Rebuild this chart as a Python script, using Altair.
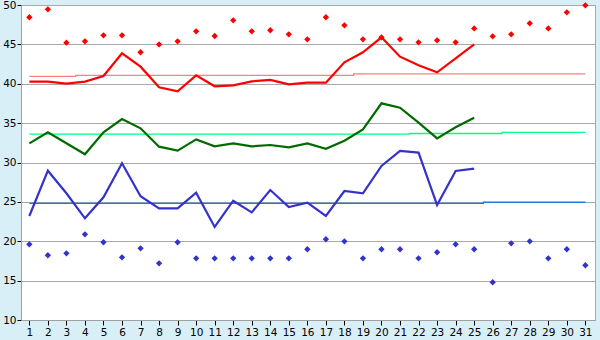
import altair as alt
import pandas as pd

days = list(range(1, 32))
days_line = list(range(1, 26))

red_points = [48.44, 49.45, 45.22, 45.39, 46.15, 46.15, 44.0, 45.0, 45.39, 46.66,
              46.06, 48.05, 46.66, 46.79, 46.28, 45.64, 48.44, 47.42, 45.64, 45.9,
              45.64, 45.26, 45.51, 45.26, 47.03, 46.02, 46.28, 47.67, 47.03, 49.07, 49.96]
red_line = [40.26, 40.26, 40.01, 40.28, 40.98, 43.86, 42.17, 39.55, 39.04, 41.07,
            39.68, 39.80, 40.31, 40.48, 39.93, 40.14, 40.14, 42.72, 43.99, 45.9,
            43.44, 42.34, 41.45, 43.23, 45.0]
red_ref = [40.94, 40.94, 40.94, 41.07, 41.07, 41.07, 41.07, 41.07, 41.07, 41.07,
           41.07, 41.07, 41.07, 41.07, 41.07, 41.07, 41.07, 41.07, 41.25, 41.25,
           41.25, 41.25, 41.25, 41.25, 41.25, 41.25, 41.25, 41.25, 41.25, 41.25, 41.25]

green_line = [32.43, 33.83, 32.45, 31.04, 33.83, 35.52, 34.34, 32.01, 31.50, 32.94,
              32.05, 32.43, 32.05, 32.22, 31.93, 32.43, 31.75, 32.77, 34.21, 37.51,
              36.96, 35.06, 33.07, 34.47, 35.69]
green_ref = [33.6, 33.6, 33.6, 33.6, 33.6, 33.6, 33.6, 33.6, 33.6, 33.6,
             33.6, 33.6, 33.6, 33.6, 33.6, 33.6, 33.6, 33.6, 33.6, 33.6,
             33.6, 33.68, 33.68, 33.68, 33.68, 33.68, 33.83, 33.83, 33.83, 33.83, 33.83]

blue_line = [23.21, 28.96, 26.09, 22.91, 25.58, 29.9, 25.71, 24.18, 24.18, 26.17,
             21.81, 25.15, 23.67, 26.51, 24.35, 24.9, 23.21, 26.38, 26.09, 29.56,
             31.46, 31.25, 24.6, 28.92, 29.22]
blue_ref = [24.82, 24.82, 24.82, 24.82, 24.82, 24.82, 24.82, 24.82, 24.82, 24.82,
            24.82, 24.82, 24.82, 24.82, 24.82, 24.82, 24.82, 24.82, 24.82, 24.82,
            24.82, 24.82, 24.82, 24.82, 24.82, 24.95, 24.95, 24.95, 24.95, 24.95, 24.95]
blue_points = [19.61, 18.22, 18.47, 20.88, 19.87, 17.96, 19.10, 17.2, 19.87, 17.83,
               17.83, 17.83, 17.83, 17.83, 17.83, 18.98, 20.25, 19.99, 17.83, 18.98,
               18.98, 17.83, 18.6, 19.61, 18.98, 14.79, 19.74, 19.99, 17.83, 18.98, 16.95]

x_ticks = list(range(1, 32))
y_ticks = [10, 15, 20, 25, 30, 35, 40, 45, 50]


def frame(xs, ys, series):
    return pd.DataFrame({"day": xs, "value": ys, "series": series})


lines = pd.concat([
    frame(days_line, red_line, "red"),
    frame(days_line, green_line, "green"),
    frame(days_line, blue_line, "blue"),
])
refs = pd.concat([
    frame(days, red_ref, "red"),
    frame(days, green_ref, "green"),
    frame(days, blue_ref, "blue"),
])
points = pd.concat([
    frame(days, red_points, "red"),
    frame(days, blue_points, "blue"),
])

x = alt.X("day:Q", scale=alt.Scale(domain=[0.55, 31.52], nice=False, zero=False),
          axis=alt.Axis(values=x_ticks, grid=False, title=None, format="d",
                        tickColor="#000000", tickSize=5, labelPadding=2,
                        domainColor="#a0a0a0", labelFlush=False))
y = alt.Y("value:Q", scale=alt.Scale(domain=[10, 50], nice=False, zero=False),
          axis=alt.Axis(values=y_ticks, grid=True, gridColor="#a8a8a8", title=None,
                        tickColor="#000000", tickSize=4, labelPadding=1,
                        domainColor="#a0a0a0", labelFlush=False))

line_colors = alt.Scale(domain=["red", "green", "blue"], range=["#ff0000", "#006a00", "#3333cc"])
ref_colors = alt.Scale(domain=["red", "green", "blue"], range=["#ff8080", "#00ff80", "#1f78e0"])
pt_colors = alt.Scale(domain=["red", "blue"], range=["#ff0000", "#3333cc"])

ref_layer = alt.Chart(refs).mark_line(interpolate="step", strokeWidth=1.3).encode(
    x=x, y=y, color=alt.Color("series:N", scale=ref_colors, legend=None),
    detail="series:N")
line_layer = alt.Chart(lines).mark_line(strokeWidth=2.2).encode(
    x=x, y=y, color=alt.Color("series:N", scale=line_colors, legend=None),
    detail="series:N")
pt_layer = alt.Chart(points).mark_point(shape="diamond", filled=True, size=40, opacity=1).encode(
    x=x, y=y, color=alt.Color("series:N", scale=pt_colors, legend=None))

chart = alt.layer(ref_layer, line_layer, pt_layer).resolve_scale(color="independent").properties(
    width=574, height=315,
    autosize=alt.AutoSizeParams(type="none"),
    padding={"left": 21, "top": 5, "right": 5, "bottom": 20},
    background="#d9eff7",
).configure_view(fill="#ffffff", stroke="#a8a8a8", strokeWidth=1).configure_axis(
    labelFont="DejaVu Sans", labelFontSize=10.5, labelColor="#000000", domainWidth=1
)

chart.save("out.html", embed_options={"renderer": "svg", "actions": False})
